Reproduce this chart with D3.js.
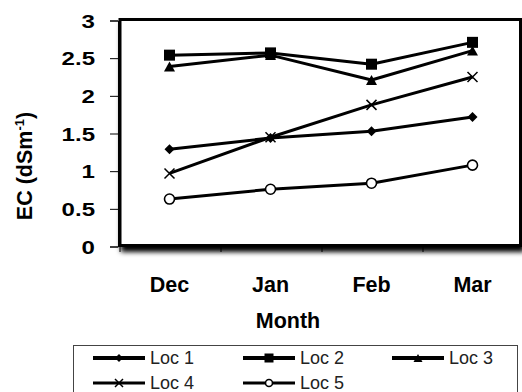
<!DOCTYPE html>
<html><head><meta charset="utf-8">
<script src="https://cdn.jsdelivr.net/npm/d3@7"></script>
<style>
body{margin:0;background:#fff;}
svg{display:block;font-family:"Liberation Sans",Arial,sans-serif;}
</style></head>
<body>
<svg id="c" width="522" height="392"></svg>
<script>
const months = ["Dec","Jan","Feb","Mar"];
const yTicks = [0,0.5,1,1.5,2,2.5,3];
const seriesNames = ["Loc 1","Loc 2","Loc 3","Loc 4","Loc 5"];
const loc1 = [1.29,1.44,1.53,1.72];
const loc2 = [2.54,2.57,2.42,2.71];
const loc3 = [2.39,2.54,2.21,2.60];
const loc4 = [0.97,1.45,1.88,2.25];
const loc5 = [0.63,0.76,0.84,1.08];
const markers = ["diamond","square","triangle","cross","circle"];

const series = [loc1,loc2,loc3,loc4,loc5].map((v,i)=>({name:seriesNames[i],values:v,marker:markers[i]}));

const svg = d3.select("#c");
const x = d3.scaleBand().domain(months).range([119,523]);
const y = d3.scaleLinear().domain([0,3]).range([246.5,20.5]);

const defs = svg.append("defs");
const f = defs.append("filter").attr("id","sh").attr("x","-10%").attr("y","-10%").attr("width","130%").attr("height","130%");
f.append("feDropShadow").attr("dx",2.5).attr("dy",5).attr("stdDeviation",2.5).attr("flood-color","#000").attr("flood-opacity",1);

// plot box with shadow
svg.append("rect").attr("x",120).attr("y",19.5).attr("width",400.5).attr("height",226)
  .attr("fill","#fff").attr("stroke","#000").attr("stroke-width",3).attr("filter","url(#sh)");

// y axis
const ya = svg.append("g").attr("transform","translate(118,0)")
  .call(d3.axisLeft(y).tickValues(yTicks).tickFormat(d3.format("")).tickSize(8).tickPadding(14));
ya.select(".domain").attr("stroke","#000").attr("stroke-width",1);
ya.selectAll(".tick line").attr("stroke","#000").attr("stroke-width",1);
ya.selectAll(".tick text").attr("font-size",18.5).attr("font-weight","bold").attr("fill","#000")
  .attr("font-family","Liberation Sans, Arial, sans-serif")
  .attr("transform","scale(1.3,1)").attr("dy","0.36em")
  .attr("x", -23/1.3);

// x tick marks
const xTickPos = months.map(m=>x(m));
svg.append("g").selectAll("line").data(xTickPos).join("line")
  .attr("x1",d=>d+1).attr("x2",d=>d+1).attr("y1",246).attr("y2",252).attr("stroke","#000").attr("stroke-width",1);

// x labels
svg.append("g").selectAll("text").data(months).join("text")
  .attr("x",d=>x(d)+x.bandwidth()/2).attr("y",291.5).attr("text-anchor","middle")
  .attr("font-size",21.5).attr("font-weight","bold").attr("fill","#000").text(d=>d);

svg.append("text").attr("x",288).attr("y",328).attr("text-anchor","middle")
  .attr("font-size",21.5).attr("font-weight","bold").attr("fill","#000").text("Month");

// y title
const yt = svg.append("text").attr("transform","translate(32,166) rotate(-90)").attr("text-anchor","middle")
  .attr("font-size",21.5).attr("font-weight","bold").attr("fill","#000");
yt.append("tspan").text("EC (dSm");
yt.append("tspan").attr("font-size",13).attr("dy",-8).text("-1");
yt.append("tspan").attr("dy",8).text(")");

function diamondPath(s){const r=s/2;return `M0,${-r}L${r},0L0,${r}L${-r},0Z`;}
function drawMarker(g, type, s){
  if(type==="diamond"){
    g.append("path").attr("d",diamondPath(s)).attr("fill","#000");
  } else if(type==="square"){
    g.append("rect").attr("x",-s/2).attr("y",-s/2).attr("width",s).attr("height",s).attr("fill","#000");
  } else if(type==="triangle"){
    const h=s*0.9;
    g.append("path").attr("d",`M0,${-h/2}L${s/2},${h/2}L${-s/2},${h/2}Z`).attr("fill","#000");
  } else if(type==="cross"){
    const r=s/2;
    g.append("path").attr("d",`M${-r},${-r}L${r},${r}M${-r},${r}L${r},${-r}`).attr("stroke","#000").attr("stroke-width",1.5).attr("fill","none");
  } else if(type==="circle"){
    g.append("circle").attr("r",s/2).attr("fill","#fff").attr("stroke","#000").attr("stroke-width",1.6);
  }
}

const line = d3.line().x((d,i)=>x(months[i])+x.bandwidth()/2).y(d=>y(d));
const sizes = {diamond:10,square:11,triangle:11,cross:10,circle:10};

const sg = svg.append("g");
series.forEach(s=>{
  sg.append("path").datum(s.values).attr("d",line).attr("fill","none").attr("stroke","#000").attr("stroke-width",3).attr("stroke-linejoin","round");
});
series.forEach(s=>{
  s.values.forEach((v,i)=>{
    const g = sg.append("g").attr("transform",`translate(${x(months[i])+x.bandwidth()/2},${y(v)})`);
    drawMarker(g,s.marker,sizes[s.marker]);
  });
});

// legend
const lg = svg.append("g");
lg.append("rect").attr("x",73.5).attr("y",345.5).attr("width",444).attr("height",60).attr("fill","#fff").attr("stroke","#444").attr("stroke-width",1);
const colX=[93,243,392], rowY=[358,383];
const legSizes={diamond:8,square:9,triangle:9,cross:8,circle:7};
series.forEach((s,i)=>{
  const cx=colX[i%3], cy=rowY[Math.floor(i/3)];
  const g=lg.append("g").attr("transform",`translate(${cx},${cy})`);
  g.append("line").attr("x1",0).attr("x2",52).attr("y1",0).attr("y2",0).attr("stroke","#000").attr("stroke-width",i<3?4:3);
  const m=g.append("g").attr("transform","translate(26,0)");
  drawMarker(m,s.marker,legSizes[s.marker]);
  g.append("text").attr("x",57).attr("y",0).attr("dy","0.36em").attr("font-size",18).attr("fill","#222").text(s.name);
});
</script>
</body></html>
